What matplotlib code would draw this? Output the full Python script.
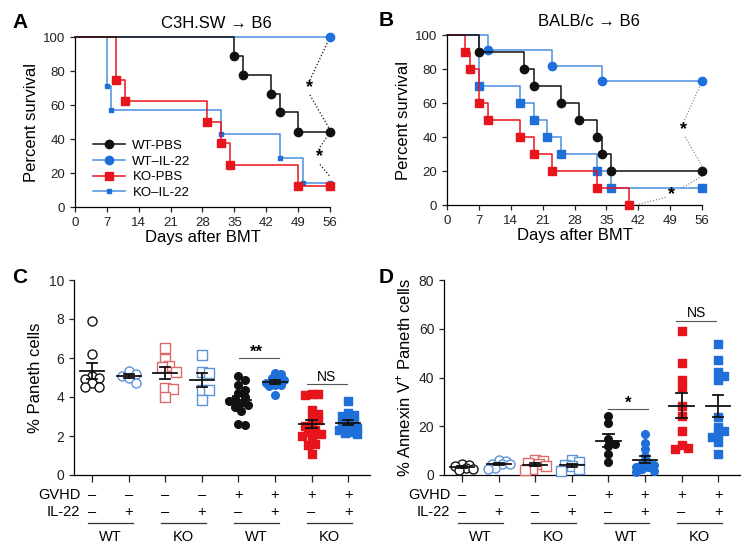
import numpy as np
import matplotlib
matplotlib.use("Agg")
import matplotlib.pyplot as plt
from matplotlib.lines import Line2D

plt.rcParams['font.family'] = ['Liberation Sans', 'DejaVu Sans']
plt.rcParams['mathtext.fontset'] = 'custom'
plt.rcParams['mathtext.rm'] = 'Liberation Sans'
plt.rcParams['axes.linewidth'] = 0.9
plt.rcParams['xtick.major.width'] = 0.9
plt.rcParams['ytick.major.width'] = 0.9
plt.rcParams['xtick.major.size'] = 3.5
plt.rcParams['ytick.major.size'] = 3.5

# ---- panel A : C3H.SW -> B6 survival ----
a_wt_pbs_days = [0, 35, 37, 43, 45, 49, 56]
a_wt_pbs_surv = [100, 88.9, 77.8, 66.7, 55.6, 44.4, 44.4]
a_wt_il22_days = [0, 56]
a_wt_il22_surv = [100, 100]
a_ko_pbs_days = [0, 9, 11, 29, 32, 34, 49, 56]
a_ko_pbs_surv = [100, 75, 62.5, 50, 37.5, 25, 12.5, 12.5]
a_ko_il22_days = [0, 7, 8, 32, 45, 50, 56]
a_ko_il22_surv = [100, 71.4, 57.1, 42.9, 28.6, 14.3, 14.3]

# ---- panel B : BALB/c -> B6 survival ----
b_wt_pbs_days = [0, 7, 17, 19, 25, 29, 33, 34, 36, 56]
b_wt_pbs_surv = [100, 90, 80, 70, 60, 50, 40, 30, 20, 20]
b_wt_il22_days = [0, 9, 23, 34, 56]
b_wt_il22_surv = [100, 90.9, 81.8, 72.7, 72.7]
b_ko_pbs_days = [0, 4, 5, 7, 9, 16, 19, 23, 33, 40]
b_ko_pbs_surv = [100, 90, 80, 60, 50, 40, 30, 20, 10, 0]
b_ko_il22_days = [0, 7, 16, 19, 22, 25, 33, 36, 56]
b_ko_il22_surv = [100, 70, 60, 50, 40, 30, 20, 10, 10]

legend_labels = ['WT-PBS', 'WT\u2013IL-22', 'KO-PBS', 'KO\u2013IL-22']
day_ticks = [0, 7, 14, 21, 28, 35, 42, 49, 56]

# ---- panel C : % Paneth cells ----
c_wt_ctrl = [7.9, 6.2, 5.1, 5.0, 4.9, 4.7, 4.5, 4.5]
c_wt_il22 = [5.35, 5.2, 5.1, 4.95, 4.7]
c_ko_ctrl = [6.5, 5.95, 5.6, 5.55, 5.3, 4.45, 4.4, 4.0]
c_ko_il22 = [6.13, 5.28, 5.25, 4.38, 4.35, 3.83]
c_wt_gvhd = [5.1, 4.85, 4.6, 4.35, 4.2, 4.0, 3.9, 3.8, 3.7, 3.6, 3.5, 3.3, 2.6, 2.55]
c_wt_gvhd_il22 = [5.25, 5.2, 4.95, 4.9, 4.85, 4.7, 4.6, 4.6, 4.55, 4.1]
c_ko_gvhd = [4.15, 4.15, 4.1, 3.35, 3.15, 3.0, 2.8, 2.6, 2.5, 2.3, 2.2, 2.1, 2.0, 1.9, 1.6, 1.55, 1.1]
c_ko_gvhd_il22 = [3.8, 3.2, 3.1, 3.05, 2.8, 2.7, 2.6, 2.5, 2.4, 2.3, 2.2, 2.15, 2.1]

# ---- panel D : % Annexin V+ Paneth cells ----
d_wt_ctrl = [4.7, 4.3, 3.5, 3.0, 2.5, 2.2]
d_wt_il22 = [6.2, 5.8, 4.6, 4.5, 4.4, 3.0, 2.5]
d_ko_ctrl = [6.2, 5.8, 5.0, 4.5, 3.6, 2.4, 2.1]
d_ko_il22 = [6.0, 5.4, 4.3, 3.6, 2.4, 1.7]
d_wt_gvhd = [24.2, 21.5, 14.6, 12.7, 11.9, 8.6, 5.5]
d_wt_gvhd_il22 = [16.7, 13.2, 10.6, 8.0, 5.5, 4.8, 4.0, 3.4, 3.2, 2.5, 1.5, 1.3]
d_ko_gvhd = [59.2, 46.0, 38.9, 35.9, 28.3, 24.2, 18.0, 12.3, 11.2, 10.5]
d_ko_gvhd_il22 = [53.7, 47.1, 42.3, 40.6, 38.9, 23.6, 19.8, 18.2, 16.8, 15.7, 13.7, 8.6]

gvhd_signs = ['\u2013', '\u2013', '\u2013', '\u2013', '+', '+', '+', '+']
il22_signs = ['\u2013', '+', '\u2013', '+', '\u2013', '+', '\u2013', '+']
strain_labels = ['WT', 'KO', 'WT', 'KO']

BLACK = '#111111'
BLUE = '#1f6fdb'
BLUE_LINE = '#4a8fe0'
RED = '#e8141c'
LRED = '#e06a6a'
LBLUE = '#5e93da'

fig = plt.figure(figsize=(7.44, 5.58), dpi=100)


def rect(l, t, r, b):
    return [l / 744, 1 - b / 558, (r - l) / 744, (b - t) / 558]


axA = fig.add_axes(rect(75, 37, 330, 207))
axB = fig.add_axes(rect(447, 35, 702, 205))
axC = fig.add_axes(rect(74, 280, 370, 475))
axD = fig.add_axes(rect(444, 280, 740, 475))


def km(ax, days, surv, lcolor, mcolor, marker, ms, z):
    ax.step(days, surv, where='post', color=lcolor, lw=1.1, zorder=z, clip_on=False)
    ax.plot(days[1:], surv[1:], ls='none', marker=marker, color=mcolor, ms=ms,
            zorder=z + 0.5, clip_on=False)


def style_survival(ax, title):
    ax.set_xlim(0, 56)
    ax.set_ylim(0, 100)
    ax.set_xticks(day_ticks)
    ax.set_yticks([0, 20, 40, 60, 80, 100])
    for s in ['top', 'right']:
        ax.spines[s].set_visible(False)
    ax.tick_params(labelsize=9.5, colors='#222222')
    ax.set_xlabel('Days after BMT', fontsize=12, labelpad=1)
    ax.set_ylabel('Percent survival', fontsize=12, labelpad=3)
    ax.text(0.555, 1.08, title, transform=ax.transAxes, fontsize=12,
            ha='center', va='center')


# panel A
km(axA, a_wt_il22_days, a_wt_il22_surv, BLUE_LINE, BLUE, 'o', 6, 2)
km(axA, a_ko_il22_days, a_ko_il22_surv, BLUE_LINE, BLUE, 's', 3.5, 3)
km(axA, a_ko_pbs_days, a_ko_pbs_surv, RED, RED, 's', 6, 4)
km(axA, a_wt_pbs_days, a_wt_pbs_surv, BLACK, BLACK, 'o', 6, 5)
style_survival(axA, 'C3H.SW \u2192 B6')

handles = [Line2D([], [], color=BLACK, marker='o', ms=6, lw=1.1),
           Line2D([], [], color=BLUE_LINE, marker='o', mfc=BLUE, mec=BLUE, ms=6, lw=1.1),
           Line2D([], [], color=RED, marker='s', ms=6, lw=1.1),
           Line2D([], [], color=BLUE_LINE, marker='s', mfc=BLUE, mec=BLUE, ms=3.5, lw=1.1)]
axA.legend(handles, legend_labels, loc='upper left', bbox_to_anchor=(0.07, 0.395),
           frameon=False, fontsize=9.5, handlelength=2.4, handletextpad=0.6,
           labelspacing=0.25, borderpad=0, borderaxespad=0)

# significance marks A
axA.plot([56, 51.6], [100, 74.7], ls=':', color=BLACK, lw=0.9, clip_on=False)
axA.plot([51.6, 56], [65.9, 45.3], ls=':', color=BLACK, lw=0.9, clip_on=False)
axA.text(51.6, 70.3, '*', ha='center', va='center', fontsize=13, fontweight='bold')
axA.plot([56, 53.5], [44, 34], ls=':', color=BLACK, lw=0.9, clip_on=False)
axA.plot([53.8, 56], [25, 18], ls=':', color=BLACK, lw=0.9, clip_on=False)
axA.text(53.6, 29.5, '*', ha='center', va='center', fontsize=13, fontweight='bold')

# panel B
km(axB, b_wt_il22_days, b_wt_il22_surv, BLUE_LINE, BLUE, 'o', 6, 2)
km(axB, b_ko_il22_days, b_ko_il22_surv, BLUE_LINE, BLUE, 's', 6, 3)
km(axB, b_ko_pbs_days, b_ko_pbs_surv, RED, RED, 's', 6, 4)
km(axB, b_wt_pbs_days, b_wt_pbs_surv, BLACK, BLACK, 'o', 6, 5)
style_survival(axB, 'BALB/c \u2192 B6')

GRAY = '#777777'
axB.plot([56, 52], [72.7, 49], ls=':', color=GRAY, lw=0.8, clip_on=False)
axB.plot([52.3, 56], [40, 23], ls=':', color=GRAY, lw=0.8, clip_on=False)
axB.text(52, 44.5, '*', ha='center', va='center', fontsize=13, fontweight='bold')
axB.plot([56, 51], [17, 9], ls=':', color=GRAY, lw=0.8, clip_on=False)
axB.plot([48, 41.5], [4.5, 0], ls=':', color=GRAY, lw=0.8, clip_on=False)
axB.text(49.4, 6.0, '*', ha='center', va='center', fontsize=13, fontweight='bold')


def swarm(vals, sy, d, sx, maxw=0.3):
    # small beeswarm with a width cap: offsets found in px, returned in category units
    vals = np.asarray(vals, dtype=float)
    order = np.argsort(vals)[::-1]
    cands = np.arange(0, maxw * sx + 0.01, d * 0.4)
    cands = sorted(set(list(cands) + list(-cands)), key=abs)
    placed = []
    xs = np.zeros(len(vals))
    for i in order:
        y = vals[i] * sy
        best, best_gap = 0.0, -1
        for off in cands:
            gap = min([np.hypot(off - px, y - py) for px, py in placed] or [1e9])
            if gap >= 0.8 * d:
                best = off
                break
            if gap > best_gap:
                best, best_gap = off, gap
        placed.append((best, y))
        xs[i] = best / sx
    return xs


group_styles = [('o', 'white', BLACK, 6.5),
                ('o', 'white', LBLUE, 6.5),
                ('s', 'white', LRED, 6.5),
                ('s', 'white', LBLUE, 6.5),
                ('o', BLACK, BLACK, 5.5),
                ('o', BLUE, BLUE, 5.5),
                ('s', RED, RED, 5.5),
                ('s', BLUE, BLUE, 5.5)]


def dot_panel(ax, groups, ymax, yticks, ylabel, sy):
    ax.set_xlim(-0.5, 7.6)
    ax.set_ylim(0, ymax)
    sx = 36.6
    for i, (vals, (mk, fc, ec, ms)) in enumerate(zip(groups, group_styles)):
        d = ms / 72 * 100
        offs = swarm(vals, sy, d, sx)
        ax.scatter(i + offs, vals, marker=mk, s=ms ** 2, facecolors=fc, edgecolors=ec,
                   linewidths=1.0, zorder=3, clip_on=False)
        m = np.mean(vals)
        sem = np.std(vals, ddof=1) / np.sqrt(len(vals))
        ax.plot([i - 0.33, i + 0.33], [m, m], color=BLACK, lw=1.3, zorder=4)
        ax.plot([i, i], [m - sem, m + sem], color=BLACK, lw=1.3, zorder=4)
        ax.plot([i - 0.14, i + 0.14], [m + sem, m + sem], color=BLACK, lw=1.3, zorder=4)
        ax.plot([i - 0.14, i + 0.14], [m - sem, m - sem], color=BLACK, lw=1.3, zorder=4)
    ax.set_yticks(yticks)
    ax.set_xticks(range(8))
    ax.set_xticklabels([])
    ax.tick_params(axis='x', length=5)
    ax.tick_params(labelsize=10, colors='#222222')
    for s in ['top', 'right']:
        ax.spines[s].set_visible(False)
    ax.set_ylabel(ylabel, fontsize=12, labelpad=4)
    tr = ax.get_xaxis_transform()
    ax.text(-0.33, -0.105, 'GVHD', transform=tr, ha='right', va='center', fontsize=10.5)
    ax.text(-0.33, -0.19, 'IL-22', transform=tr, ha='right', va='center', fontsize=10.5)
    for i in range(8):
        ax.text(i, -0.105, gvhd_signs[i], transform=tr, ha='center', va='center', fontsize=10.5)
        ax.text(i, -0.19, il22_signs[i], transform=tr, ha='center', va='center', fontsize=10.5)
    for j, lab in enumerate(strain_labels):
        x0 = 2 * j
        ax.plot([x0 - 0.12, x0 + 1.12], [-0.245, -0.245], transform=tr, color='#333333',
                lw=0.9, clip_on=False)
        ax.text(x0 + 0.5, -0.32, lab, transform=tr, ha='center', va='center', fontsize=10.5)


dot_panel(axC, [c_wt_ctrl, c_wt_il22, c_ko_ctrl, c_ko_il22,
                c_wt_gvhd, c_wt_gvhd_il22, c_ko_gvhd, c_ko_gvhd_il22],
          10, [0, 2, 4, 6, 8, 10], '% Paneth cells', 19.5)
dot_panel(axD, [d_wt_ctrl, d_wt_il22, d_ko_ctrl, d_ko_il22,
                d_wt_gvhd, d_wt_gvhd_il22, d_ko_gvhd, d_ko_gvhd_il22],
          80, [0, 20, 40, 60, 80], '% Annexin V$^{+}$ Paneth cells', 2.44)

# significance bars C / D
axC.plot([4.02, 5.1], [6.0, 6.0], color='#555555', lw=0.8)
axC.text(4.5, 6.3, '**', ha='center', va='center', fontsize=12, fontweight='bold')
axC.plot([5.88, 6.97], [4.67, 4.67], color='#555555', lw=0.8)
axC.text(6.42, 5.05, 'NS', ha='center', va='center', fontsize=10)
axD.plot([4.0, 5.09], [27, 27], color='#555555', lw=0.8)
axD.text(4.55, 29.3, '*', ha='center', va='center', fontsize=12, fontweight='bold')
axD.plot([5.86, 6.95], [63.2, 63.2], color='#555555', lw=0.8)
axD.text(6.42, 66.6, 'NS', ha='center', va='center', fontsize=10)

# panel letters
for lab, x, y in [('A', 20, 22), ('B', 386, 21), ('C', 20, 277), ('D', 386, 277)]:
    fig.text(x / 744, 1 - y / 558, lab, fontsize=15, fontweight='bold', ha='center', va='center')

fig.savefig('out.png', dpi=100)
